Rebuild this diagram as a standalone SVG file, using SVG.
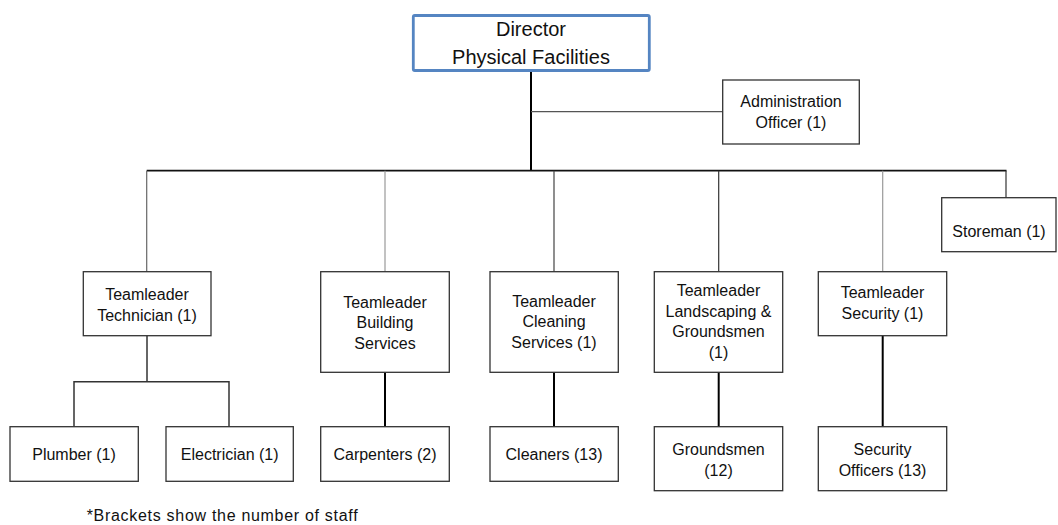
<svg xmlns="http://www.w3.org/2000/svg" width="1058" height="525" viewBox="0 0 1058 525">
<style>
.box{fill:#fff;stroke:#333;stroke-width:1.3}
.dir{fill:#fff;stroke:#5585c2;stroke-width:2.8}
text{font-family:"Liberation Sans",Arial,sans-serif;font-size:16px;fill:#111;text-anchor:middle}
.big{font-size:20px}
.note{text-anchor:start;letter-spacing:0.7px}
.c{fill:none}
.thick{stroke:#000;stroke-width:2}
.thin{stroke-width:1.2}
</style>
<rect width="1058" height="525" fill="#fff"/>
<g id="connectors" class="c">
<line class="thick" x1="531" y1="71" x2="531" y2="171"/>
<line class="thin" stroke="#555" x1="531" y1="111.7" x2="722.7" y2="111.7"/>
<line stroke="#111" stroke-width="1.8" x1="146.7" y1="170.7" x2="1006.5" y2="170.7"/>
<line class="thin" stroke="#666" x1="146.7" y1="170.7" x2="146.7" y2="271.7"/>
<line class="thin" stroke="#999" x1="385" y1="170.7" x2="385" y2="271.7"/>
<line class="thin" stroke="#444" x1="554" y1="170.7" x2="554" y2="271.7"/>
<line class="thin" stroke="#333" x1="718.7" y1="170.7" x2="718.7" y2="271.7"/>
<line class="thin" stroke="#999" x1="882.7" y1="170.7" x2="882.7" y2="271.7"/>
<line class="thin" stroke="#333" x1="1006" y1="170.7" x2="1006" y2="197.7"/>
<polyline stroke="#333" stroke-width="1.5" points="147,335.7 147,381.7"/>
<polyline stroke="#333" stroke-width="1.5" points="74,426.7 74,381.7 229,381.7 229,426.7"/>
<line class="thick" stroke-width="2.2" x1="385" y1="372.3" x2="385" y2="426.7"/>
<line class="thick" stroke-width="2.2" x1="554" y1="372.3" x2="554" y2="426.7"/>
<line class="thick" stroke-width="2.2" x1="718.7" y1="372.3" x2="718.7" y2="426.7"/>
<line class="thick" stroke-width="2.2" x1="882.7" y1="335.7" x2="882.7" y2="426.7"/>
</g>
<g id="director">
<rect class="dir" x="413.3" y="15.5" width="236" height="55" rx="1.5"/>
<text class="big" x="531" y="36">Director</text>
<text class="big" x="531" y="64">Physical Facilities</text>
</g>
<g id="admin">
<rect class="box" x="722.7" y="80" width="136.6" height="64"/>
<text x="791" y="107.3">Administration</text>
<text x="791" y="128.3">Officer (1)</text>
</g>
<g id="storeman">
<rect class="box" x="941.7" y="197.7" width="114.3" height="54"/>
<text x="999" y="236.7">Storeman (1)</text>
</g>
<g id="tl-technician">
<rect class="box" x="83.3" y="271.7" width="127.7" height="64"/>
<text x="147" y="300">Teamleader</text>
<text x="147" y="321">Technician (1)</text>
</g>
<g id="tl-building">
<rect class="box" x="320.7" y="271.7" width="128.6" height="100.6"/>
<text x="385" y="307.7">Teamleader</text>
<text x="385" y="328.3">Building</text>
<text x="385" y="349">Services</text>
</g>
<g id="tl-cleaning">
<rect class="box" x="490" y="271.7" width="128.3" height="100.6"/>
<text x="554" y="306.7">Teamleader</text>
<text x="554" y="327.3">Cleaning</text>
<text x="554" y="348">Services (1)</text>
</g>
<g id="tl-landscaping">
<rect class="box" x="654.3" y="271.7" width="128.4" height="100.6"/>
<text x="718.5" y="296">Teamleader</text>
<text x="718.5" y="316.7">Landscaping &amp;</text>
<text x="718.5" y="337.4">Groundsmen</text>
<text x="718.5" y="358.1">(1)</text>
</g>
<g id="tl-security">
<rect class="box" x="818.3" y="271.7" width="128.4" height="64"/>
<text x="882.5" y="298.3">Teamleader</text>
<text x="882.5" y="319.3">Security (1)</text>
</g>
<g id="plumber">
<rect class="box" x="10" y="426.7" width="128.3" height="54.6"/>
<text x="74" y="460">Plumber (1)</text>
</g>
<g id="electrician">
<rect class="box" x="166" y="426.7" width="127.3" height="54.6"/>
<text x="229.7" y="460">Electrician (1)</text>
</g>
<g id="carpenters">
<rect class="box" x="320.7" y="426.7" width="128.6" height="54.6"/>
<text x="385" y="460">Carpenters (2)</text>
</g>
<g id="cleaners">
<rect class="box" x="490" y="426.7" width="128.3" height="54.6"/>
<text x="554" y="460">Cleaners (13)</text>
</g>
<g id="groundsmen">
<rect class="box" x="654.3" y="426.7" width="128.4" height="64"/>
<text x="718.5" y="455">Groundsmen</text>
<text x="718.5" y="475.5">(12)</text>
</g>
<g id="security-officers">
<rect class="box" x="818.3" y="426.7" width="128.4" height="64"/>
<text x="882.5" y="455">Security</text>
<text x="882.5" y="475.5">Officers (13)</text>
</g>
<text class="note" x="86.7" y="521">*Brackets show the number of staff</text>
</svg>
